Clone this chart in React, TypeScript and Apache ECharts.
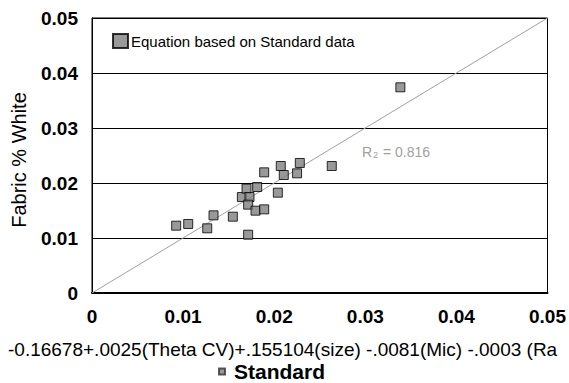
import React, { useEffect, useRef } from "react";
import * as echarts from "echarts";

const xTicks = [0, 0.01, 0.02, 0.03, 0.04, 0.05];
const predicted = [
  0.00924, 0.01056, 0.01265, 0.01334, 0.01546, 0.01645, 0.01696, 0.01729, 0.01714, 0.01714,
  0.01795, 0.01813, 0.0189, 0.0189, 0.0204, 0.02072, 0.02105, 0.02251, 0.02281, 0.02632, 0.03385,
];
const actual = [
  0.01224, 0.01255, 0.01176, 0.01412, 0.01388, 0.01745, 0.01897, 0.01745, 0.01606, 0.0106,
  0.01497, 0.01927, 0.01521, 0.02194, 0.01824, 0.02309, 0.02145, 0.02176, 0.02364, 0.02309, 0.0374,
];
const identityLine = [
  [0, 0],
  [0.05, 0.05],
];
const seriesName = "Equation based on Standard data";
const legendName = "Standard";
const r2Value = "0.816";
const xTitle = "-0.16678+.0025(Theta CV)+.155104(size) -.0081(Mic) -.0003 (Ra";
const yTitle = "Fabric % White";

export default function App() {
  const ref = useRef<HTMLDivElement>(null);
  useEffect(() => {
    if (!ref.current) return;
    const chart = echarts.init(ref.current, null, { renderer: "svg" });
    const font = "Liberation Sans, Arial, sans-serif";
    chart.setOption({
      animation: false,
      textStyle: { fontFamily: font },
      grid: {
        left: 92,
        right: 21,
        top: 18,
        bottom: 90,
        show: true,
        borderColor: "#000",
        borderWidth: 1,
        backgroundColor: "transparent",
      },
      xAxis: {
        type: "value",
        min: 0,
        max: 0.05,
        interval: 0.01,
        axisLine: { show: true, lineStyle: { color: "#000", width: 2 } },
        axisTick: { show: false },
        splitLine: { show: false },
        axisLabel: {
          color: "#000",
          fontWeight: "bold",
          fontSize: 19,
          fontFamily: font,
          margin: 14,
          formatter: (v: number) => {
            const i = xTicks.findIndex((t) => Math.abs(t - v) < 1e-9);
            return i >= 0 ? String(xTicks[i]) : "";
          },
        },
      },
      yAxis: {
        type: "value",
        min: 0,
        max: 0.05,
        interval: 0.01,
        axisLine: { show: true, lineStyle: { color: "#000", width: 1 } },
        axisTick: { show: false },
        splitLine: { show: true, lineStyle: { color: "#000", width: 1 } },
        axisLabel: {
          color: "#000",
          fontWeight: "bold",
          fontSize: 19,
          fontFamily: font,
          margin: 14,
        },
      },
      legend: [
        {
          data: [seriesName],
          left: 112,
          top: 33,
          itemWidth: 15,
          itemHeight: 14,
          itemGap: 4,
          icon: "rect",
          textStyle: { color: "#000", fontSize: 15, fontFamily: font, padding: [0, 0, 0, -2] },
          selectedMode: false,
          padding: 0,
        },
        {
          data: [legendName],
          left: 218,
          top: 361,
          itemWidth: 6,
          itemHeight: 6,
          icon: "rect",
          textStyle: {
            color: "#000",
            fontSize: 21,
            fontWeight: "bold",
            fontFamily: font,
            padding: [0, 0, 0, 4],
          },
          selectedMode: false,
          padding: 0,
        },
      ],
      series: [
        {
          type: "line",
          data: identityLine,
          symbol: "none",
          silent: true,
          lineStyle: { color: "#a0a0a0", width: 1 },
          z: 1,
        },
        {
          name: seriesName,
          type: "scatter",
          symbol: "rect",
          symbolSize: 9,
          data: predicted.map((x, i) => [x, actual[i]]),
          itemStyle: { color: "#808080", borderColor: "#000", borderWidth: 1 },
          z: 3,
        },
        {
          name: legendName,
          type: "scatter",
          symbol: "rect",
          data: [],
          itemStyle: { color: "#808080", borderColor: "#333", borderWidth: 1 },
        },
      ],
      graphic: [
        {
          type: "text",
          x: 19,
          y: 160,
          rotation: Math.PI / 2,
          style: {
            text: yTitle,
            fill: "#000",
            font: `20px ${font}`,
            align: "center",
            verticalAlign: "middle",
          },
        },
        {
          type: "text",
          left: 8,
          top: 340,
          style: {
            text: xTitle,
            fill: "#000",
            font: `19px ${font}`,
          },
        },
        {
          type: "text",
          left: 362,
          top: 145,
          style: {
            text: "{r|R}{s|2}{r| = " + r2Value + "}",
            rich: {
              r: { fill: "#a0a0a0", fontSize: 14, fontFamily: font },
              s: { fill: "#a0a0a0", fontSize: 9, fontFamily: font, padding: [6, 1, 0, 1] },
            },
          },
        },
      ],
    });
    return () => chart.dispose();
  }, []);
  return (
    <div
      ref={ref}
      style={{ position: "absolute", left: 0, top: 0, width: 569, height: 383 }}
    />
  );
}
